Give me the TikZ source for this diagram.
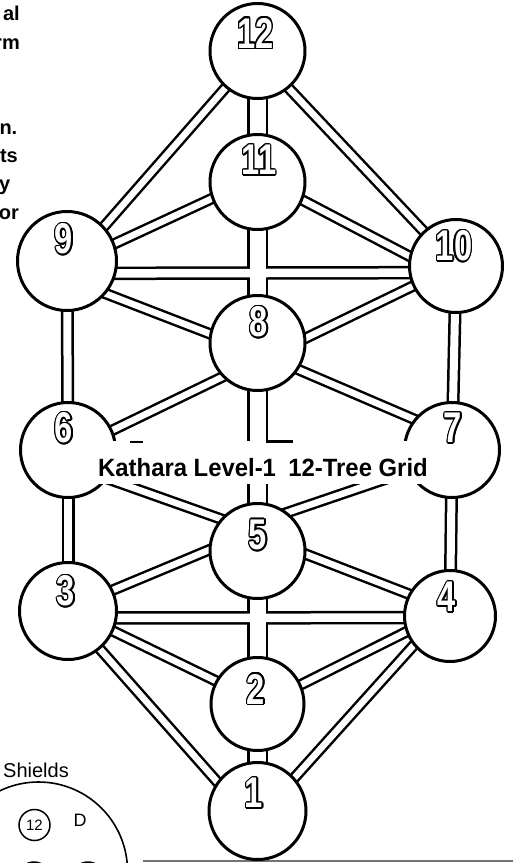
\documentclass[tikz,border=0pt]{standalone}
\usepackage{fontspec}
\setmainfont{Liberation Sans}
\usepackage{graphicx}
\pgfdeclarelayer{edges}
\pgfsetlayers{edges,main}
\newcommand\ocp[3]{\rlap{\hspace*{#1}\raisebox{#2}{\textcolor{black}{#3}}}}
\newcommand\outl[1]{%
 \ocp{1.6bp}{0bp}{#1}\ocp{-1.6bp}{0bp}{#1}\ocp{0bp}{1.6bp}{#1}\ocp{0bp}{-1.6bp}{#1}%
 \ocp{1.13bp}{1.13bp}{#1}\ocp{-1.13bp}{1.13bp}{#1}\ocp{1.13bp}{-1.13bp}{#1}\ocp{-1.13bp}{-1.13bp}{#1}%
 \ocp{1.48bp}{0.61bp}{#1}\ocp{-1.48bp}{0.61bp}{#1}\ocp{1.48bp}{-0.61bp}{#1}\ocp{-1.48bp}{-0.61bp}{#1}%
 \ocp{0.61bp}{1.48bp}{#1}\ocp{-0.61bp}{1.48bp}{#1}\ocp{0.61bp}{-1.48bp}{#1}\ocp{-0.61bp}{-1.48bp}{#1}%
 \textcolor{white}{#1}}
\def\diagedges{n12.229/n9.43, n12.-50/n10.133, n11.200/n9.20, n11.-22/n10.168, n9.-40/n8.169, n10.205/n8.6, n8.224/n6.24, n8.-33/n7.141, n6.-36/n5.139, n7.206/n5.52, n5.179/n3.25, n5.-4/n4.152, n3.-24/n2.151, n4.200/n2.24, n3.-50/n1.144, n4.219/n1.42}
\def\sideedges{n9/n6, n6/n3, n10/n7, n7/n4}
\def\horizedges{n9.-14/n10.188.4, n3.-8/n4.182.4}
\def\centeredges{n12/n11, n11/n8, n8/n5, n5/n2, n2/n1}
\begin{document}
\begin{tikzpicture}[x=1bp,y=-1bp,
  circ/.style={circle, draw=black, fill=white, line width=3bp, inner sep=0, minimum size=#1},
  circ/.default=95bp,
  blk/.style={draw=black, line width=#1, shorten <=-12bp, shorten >=-12bp},
  wht/.style={draw=white, line width=#1, shorten <=-12bp, shorten >=-12bp},
  dig/.style={inner sep=0, font=\fontsize{43bp}{43bp}\selectfont\bfseries},
  frag/.style={inner sep=0, anchor=base east, font=\fontsize{20bp}{24bp}\selectfont\bfseries},
  thinc/.style={circle, draw=black, line width=1.5bp, inner sep=0, minimum size=#1},
  thinc/.default=32bp,
]
\useasboundingbox (0,0) rectangle (513,863);

% circles
\node (n12) [circ] at (257.5,51) {};
\node (n11) [circ] at (257.5,182) {};
\node (n9) [circ=99bp] at (67,261) {};
\node (n10) [circ=93bp] at (456,266) {};
\node (n8) [circ] at (257.5,343) {};
\node (n6) [circ] at (68,450) {};
\node (n7) [circ] at (452,450) {};
\node (n5) [circ] at (257.5,551) {};
\node (n3) [circ=97bp] at (68,611) {};
\node (n4) [circ=91bp] at (450,616) {};
\node (n2) [circ=93bp] at (257.5,704) {};
\node (n1) [circ=97bp] at (257.5,811) {};

\begin{pgfonlayer}{edges}
\fill[white] (0,0) rectangle (513,863);
\draw[line width=1.6bp, draw=black!55] (143,861) -- (513,861);
\foreach \a/\b in \diagedges {\draw[blk=11.5bp] (\a) -- (\b);}
\foreach \a/\b in \sideedges {\draw[blk=13bp] (\a) -- (\b);}
\foreach \a/\b in \horizedges {\draw[blk=13.5bp] (\a) -- (\b);}
\foreach \a/\b in \centeredges {\draw[blk=21bp] (\a) -- (\b);}
\foreach \a/\b in \diagedges {\draw[wht=6.5bp] (\a) -- (\b);}
\foreach \a/\b in \sideedges {\draw[wht=8bp] (\a) -- (\b);}
\foreach \a/\b in \horizedges {\draw[wht=8.5bp] (\a) -- (\b);}
\foreach \a/\b in \centeredges {\draw[wht=16bp] (\a) -- (\b);}
\end{pgfonlayer}

% title label
\fill[white] (96,441) rectangle (432,484);
\node (ttl) [inner sep=0, anchor=base west, font=\fontsize{25bp}{25bp}\selectfont\bfseries] at (98,476) {\scalebox{0.955}[1]{Kathara Level-1\hspace{13bp}12-Tree Grid}};
\draw[line width=2.5bp] (266,441.6) -- (293,441.6);
\draw[line width=2.2bp] (130,442) -- (143,442);

% digits
\node (d12) [dig] at (255.5,33) {\scalebox{0.76}[1]{\outl{12}}};
\node (d11) [dig] at (259,160) {\scalebox{0.76}[1]{\outl{11}}};
\node (d10) [dig] at (454,246) {\scalebox{0.76}[1]{\outl{10}}};
\node (d9) [dig] at (64,239) {\scalebox{0.76}[1]{\outl{9}}};
\node (d8) [dig] at (259,322) {\scalebox{0.76}[1]{\outl{8}}};
\node (d7) [dig] at (453,428) {\scalebox{0.76}[1]{\outl{7}}};
\node (d6) [dig] at (64,428) {\scalebox{0.76}[1]{\outl{6}}};
\node (d5) [dig] at (258,535) {\scalebox{0.76}[1]{\outl{5}}};
\node (d4) [dig] at (447,597) {\scalebox{0.76}[1]{\outl{4}}};
\node (d3) [dig] at (66,591) {\scalebox{0.76}[1]{\outl{3}}};
\node (d2) [dig] at (256,689) {\scalebox{0.76}[1]{\outl{2}}};
\node (d1) [dig] at (254,793) {\scalebox{0.76}[1]{\outl{1}}};

% cut-off text at top left
\node (f1) [frag] at (20,20) {al};
\node (f2) [frag] at (20,49) {rm};
\node (f3) [frag] at (17.5,134) {n.};
\node (f4) [frag] at (18,162) {ts};
\node (f5) [frag] at (10.5,190) {y};
\node (f6) [frag] at (19,219) {or};

% shields
\node (shtxt) [inner sep=0, anchor=base west, font=\fontsize{20bp}{24bp}\selectfont] at (3,777) {Shields};
\node (shield) [circle, draw=black, line width=1.6bp, minimum size=178bp, inner sep=0] at (38.5,871) {};
\node (s12) [thinc=31bp, font=\fontsize{15bp}{15bp}\selectfont] at (34.5,825) {12};
\node (sD) [inner sep=0, font=\fontsize{18bp}{18bp}\selectfont] at (80,820) {D};
\node (sa) [thinc] at (34,878) {};
\node (sb) [thinc] at (88,878) {};
\end{tikzpicture}
\end{document}
